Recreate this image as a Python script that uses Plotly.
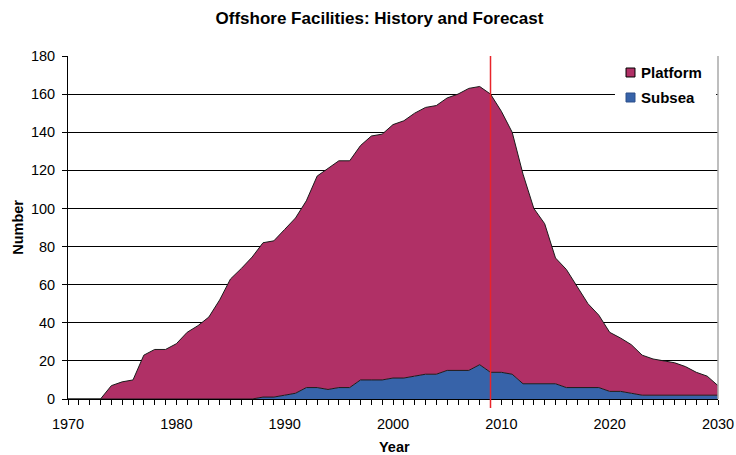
import plotly.graph_objects as go

years = list(range(1970, 2031))

subsea = [0, 0, 0, 0, 0, 0, 0, 0, 0, 0,
          0, 0, 0, 0, 0, 0, 0, 0, 1, 1,
          2, 3, 6, 6, 5, 6, 6, 10, 10, 10,
          11, 11, 12, 13, 13, 15, 15, 15, 18, 14,
          14, 13, 8, 8, 8, 8, 6, 6, 6, 6,
          4, 4, 3, 2, 2, 2, 2, 2, 2, 2,
          2]

platform = [0, 0, 0, 0, 7, 9, 10, 23, 26, 26,
            29, 35, 38.5, 43, 52, 63, 68.5, 74.5, 81, 82,
            87, 92, 98, 111, 116, 119, 119, 123, 128, 129,
            133, 135, 138, 140, 141, 143, 145, 148, 146, 146,
            137, 127, 110, 92, 84, 66, 62, 53, 44, 38,
            31, 28, 25.5, 21, 19, 18, 17, 15, 12, 10,
            5]

forecast_year = 2009
x_ticks = [1970, 1980, 1990, 2000, 2010, 2020, 2030]
y_ticks = [0, 20, 40, 60, 80, 100, 120, 140, 160, 180]
legend_labels = ["Platform", "Subsea"]

PLATFORM_COLOR = "#B03066"
SUBSEA_COLOR = "#3763A9"

fig = go.Figure()
fig.add_trace(go.Scatter(
    x=years, y=subsea, name="Subsea", mode="lines", showlegend=False,
    stackgroup="one", line=dict(color="#1a1a1a", width=1),
    fillcolor=SUBSEA_COLOR, hoverinfo="x+y+name",
))
fig.add_trace(go.Scatter(
    x=years, y=platform, name="Platform", mode="lines", showlegend=False,
    stackgroup="one", line=dict(color="#1a1a1a", width=1),
    fillcolor=PLATFORM_COLOR, hoverinfo="x+y+name",
))

# forecast divider
fig.add_shape(type="line", xref="x", yref="paper",
              x0=forecast_year, x1=forecast_year, y0=-0.026, y1=1,
              line=dict(color="#E8242B", width=1.5))

# right plot border
fig.add_shape(type="line", xref="paper", yref="paper", x0=1, x1=1, y0=0, y1=1,
              line=dict(color="#A8A8A8", width=1.5))

# legend box (white background over gridlines)
fig.add_shape(type="rect", xref="paper", yref="paper",
              x0=0.8415, x1=0.997, y0=0.843, y1=0.994,
              fillcolor="white", line=dict(width=0), layer="above")
legend_colors = [PLATFORM_COLOR, SUBSEA_COLOR]
legend_borders = ["black", "#2c4f8a"]
legend_rows = [(0.9388, 0.965, 0.9519), (0.8659, 0.8921, 0.879)]
for label, col, bcol, (y0, y1, yc) in zip(legend_labels, legend_colors,
                                          legend_borders, legend_rows):
    fig.add_shape(type="rect", xref="paper", yref="paper",
                  x0=0.8585, x1=0.8723, y0=y0, y1=y1,
                  fillcolor=col, line=dict(color=bcol, width=1), layer="above")
    fig.add_annotation(text=f"<b>{label}</b>", xref="paper", yref="paper",
                       x=0.8785, y=yc, xanchor="left", yanchor="middle",
                       showarrow=False, font=dict(size=15))

fig.add_annotation(text="<b>Number</b>", xref="paper", yref="paper",
                   x=-0.078, y=0.5, xanchor="center", yanchor="middle",
                   textangle=-90, showarrow=False, font=dict(size=14.5))
fig.add_annotation(text="<b>Year</b>", xref="paper", yref="paper",
                   x=0.502, y=-0.14, xanchor="center", yanchor="middle",
                   showarrow=False, font=dict(size=14.5))

fig.update_layout(
    width=736, height=455,
    margin=dict(l=68, r=18, t=56, b=56),
    paper_bgcolor="white", plot_bgcolor="white",
    font=dict(family="Liberation Sans, Arial, sans-serif", size=14.5, color="black"),
    title=dict(text="<b>Offshore Facilities: History and Forecast</b>",
               x=0.5156, xanchor="center", y=0.9604, yanchor="middle",
               font=dict(size=17)),
    showlegend=False,
    xaxis=dict(range=[1970, 2030], tickvals=x_ticks, ticks="outside",
               ticklen=5, tickcolor="black", showline=True, linecolor="black",
               linewidth=1, showgrid=False, zeroline=False, automargin=False,
               ticklabelstandoff=7,
               minor=dict(dtick=1, tick0=1970, ticks="outside", ticklen=5,
                          tickcolor="black", showgrid=False)),
    yaxis=dict(range=[0, 180], tickvals=y_ticks, ticks="outside",
               ticklen=5, tickcolor="black", showline=True, linecolor="black",
               linewidth=1, showgrid=True, gridcolor="black", gridwidth=1,
               zeroline=False, automargin=False, ticklabelstandoff=4),
)

fig.write_html("out.html",
               config={"displayModeBar": False},
               post_script="document.body.style.margin='0';document.body.style.overflow='hidden';")
